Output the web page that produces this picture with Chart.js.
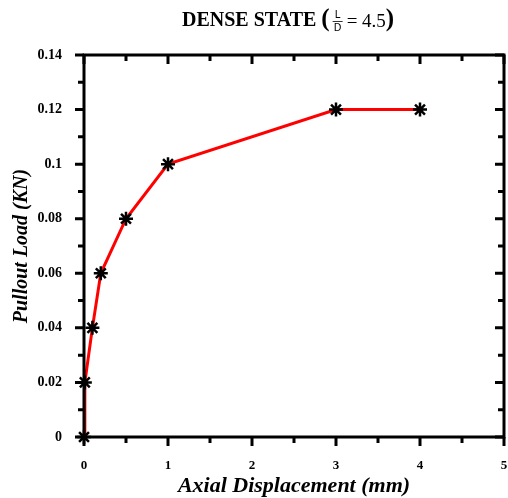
<!DOCTYPE html>
<html>
<head>
<meta charset="utf-8">
<script src="https://cdn.jsdelivr.net/npm/chart.js@4/dist/chart.umd.min.js"></script>
<style>
  html, body { margin: 0; padding: 0; background: #fff; }
  #wrap { width: 508px; height: 498px; }
</style>
</head>
<body>
<div id="wrap"><canvas id="chart" width="508" height="498"></canvas></div>
<script>
// values
const displacement = [0, 0.01, 0.1, 0.2, 0.5, 1, 3, 4];
const pulloutLoad = [0, 0.02, 0.04, 0.06, 0.08, 0.1, 0.12, 0.12];
const xTickLabels = ['0', '1', '2', '3', '4', '5'];
const yTickLabels = ['0', '0.02', '0.04', '0.06', '0.08', '0.1', '0.12', '0.14'];

const serif = '"Liberation Serif", "DejaVu Serif", serif';

// ticks on all four sides: outward on bottom/left, inward on top/right
const frameTicks = {
  id: 'frameTicks',
  afterDraw(chart) {
    const { ctx, chartArea: a } = chart;
    const xs = chart.scales.x;
    const ys = chart.scales.y;
    ctx.save();
    ctx.strokeStyle = '#000';
    ctx.lineWidth = 3;
    ctx.beginPath();
    xs.ticks.forEach((t) => {
      const px = xs.getPixelForValue(t.value);
      const len = Number.isInteger(Math.round(t.value * 1000) / 1000) ? 9 : 6;
      ctx.moveTo(px, a.bottom);
      ctx.lineTo(px, a.bottom + len);
      ctx.moveTo(px, a.top);
      ctx.lineTo(px, a.top + len);
    });
    ys.ticks.forEach((t) => {
      const py = ys.getPixelForValue(t.value);
      const len = Math.round(t.value * 100) % 2 === 0 ? 9 : 6;
      ctx.moveTo(a.left, py);
      ctx.lineTo(a.left - len, py);
      ctx.moveTo(a.right, py);
      ctx.lineTo(a.right - len, py);
    });
    ctx.stroke();
    ctx.strokeRect(a.left, a.top, a.right - a.left, a.bottom - a.top);
    ctx.restore();
  },
};

// title with the L/D fraction
const fracTitle = {
  id: 'fracTitle',
  afterDraw(chart) {
    const { ctx } = chart;
    const y = 21;
    ctx.save();
    ctx.fillStyle = '#000';
    ctx.textBaseline = 'middle';
    ctx.textAlign = 'left';
    ctx.font = 'bold 20px ' + serif;
    const main = 'DENSE STATE ';
    let x = 182;
    ctx.fillText(main, x, y);
    x += ctx.measureText(main).width;
    ctx.font = 'bold 25px ' + serif;
    ctx.fillText('(', x, y - 1);
    x += ctx.measureText('(').width + 4;
    ctx.font = '10px "DejaVu Sans", sans-serif';
    ctx.textAlign = 'center';
    ctx.fillText('L', x + 4, y - 6);
    ctx.fillText('D', x + 4, y + 7);
    ctx.fillRect(x - 1, y, 10, 0.8);
    x += 13;
    ctx.textAlign = 'left';
    ctx.font = '19px ' + serif;
    ctx.fillText('= 4.5', x, y + 1);
    x += ctx.measureText('= 4.5').width;
    ctx.font = 'bold 25px ' + serif;
    ctx.fillText(')', x, y - 1);
    ctx.restore();
  },
};

new Chart(document.getElementById('chart'), {
  type: 'scatter',
  data: {
    datasets: [{
      data: displacement.map((d, i) => ({ x: d, y: pulloutLoad[i] })),
      showLine: true,
      borderColor: '#ff0000',
      borderWidth: 3,
      tension: 0,
      pointStyle: 'star',
      pointRadius: 7,
      pointHoverRadius: 7,
      pointBorderColor: '#000',
      pointBackgroundColor: '#000',
      pointBorderWidth: 2.5,
      clip: false,
    }],
  },
  options: {
    responsive: false,
    animation: false,
    layout: { autoPadding: false, padding: { top: 55, right: 4, left: 0, bottom: 0 } },
    plugins: { legend: { display: false }, tooltip: { enabled: false } },
    scales: {
      x: {
        type: 'linear',
        min: 0,
        max: 5,
        afterFit(scale) {
          scale.height = 61;
          scale.paddingLeft = 0;
          scale.paddingRight = 0;
        },
        grid: { display: false },
        border: { display: false },
        ticks: {
          stepSize: 0.5,
          padding: 13,
          color: '#000',
          font: { family: serif, size: 13, weight: 'bold' },
          callback: (v) => (Number.isInteger(v) ? xTickLabels[v] : ''),
        },
        title: {
          display: true,
          text: 'Axial Displacement (mm)',
          color: '#000',
          padding: { top: 0, bottom: 1 },
          font: { family: serif, size: 22, weight: 'bold', style: 'italic', lineHeight: 1 },
        },
      },
      y: {
        min: 0,
        max: 0.14,
        afterFit(scale) {
          scale.width = 84;
          scale.paddingTop = 0;
          scale.paddingBottom = 0;
        },
        grid: { display: false },
        border: { display: false },
        ticks: {
          stepSize: 0.01,
          padding: 14,
          color: '#000',
          font: { family: serif, size: 14, weight: 'bold' },
          callback: (v) => {
            const k = Math.round(v * 100);
            return k % 2 === 0 ? yTickLabels[k / 2] : '';
          },
        },
        title: {
          display: true,
          text: 'Pullout Load (KN)',
          color: '#000',
          padding: { top: 12, bottom: 0 },
          font: { family: serif, size: 20, weight: 'bold', style: 'italic', lineHeight: 1 },
        },
      },
    },
  },
  plugins: [frameTicks, fracTitle],
});
</script>
</body>
</html>
